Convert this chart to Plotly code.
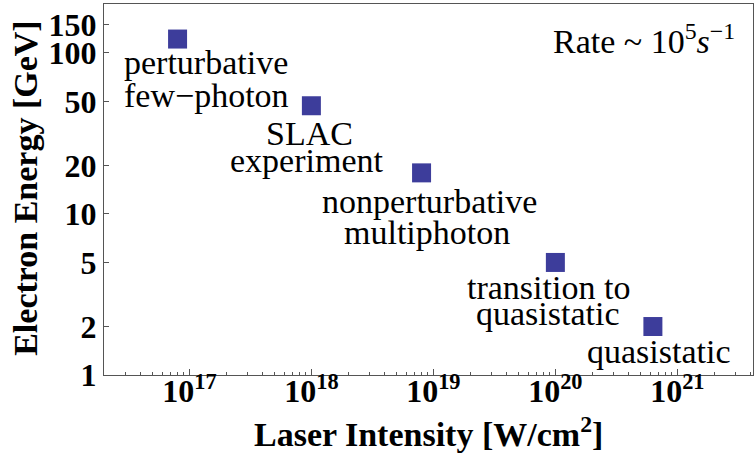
import plotly.graph_objects as go
import numpy as np

# Data
intensity = [8.0e16, 1.0e18, 8.0e18, 1.0e20, 6.3e20]   # W/cm^2
energy = [122, 47, 18, 5, 2]                           # GeV
label_lines = [["perturbative", "few\u2212photon"],
               ["SLAC", "experiment"],
               ["nonperturbative", "multiphoton"],
               ["transition to", "quasistatic"],
               ["quasistatic"]]

x_tickvals = [1e17, 1e18, 1e19, 1e20, 1e21]
x_ticktext = ["10<sup>17</sup>", "10<sup>18</sup>", "10<sup>19</sup>",
              "10<sup>20</sup>", "10<sup>21</sup>"]
y_tickvals = [1, 2, 5, 10, 20, 50, 100, 150]
y_ticktext = ["1", "2", "5", "10", "20", "50", "100", "150"]

# label placement (pixel offsets from each marker, per text line)
line_offsets = [[(28, -23), (29, -56)],
                [(-2, -28), (-5, -55)],
                [(8, -29), (5, -60)],
                [(-7, -25), (-7, -51)],
                [(6, -25)]]

minor_x = [k * 10.0 ** n for n in range(16, 22) for k in range(2, 10)]

SERIF = "Liberation Serif, Times New Roman, serif"
MARK = "#3d3d9b"
FRAME = "#555555"

fig = go.Figure()
fig.add_trace(go.Scatter(
    x=intensity, y=energy, mode="markers",
    marker=dict(symbol="square", size=19, color=MARK, line=dict(width=0)),
    showlegend=False, hoverinfo="skip"))

for xi, yi, lines, offs in zip(intensity, energy, label_lines, line_offsets):
    for t, (dx, dy) in zip(lines, offs):
        fig.add_annotation(x=np.log10(xi), y=np.log10(yi), text=t, showarrow=False,
                           xshift=dx, yshift=dy, xanchor="center", yanchor="middle",
                           font=dict(family=SERIF, size=34, color="black"))

fig.add_annotation(xref="paper", yref="paper", x=0.832, y=0.906,
                   xanchor="center", yanchor="middle",
                   text="Rate ~ 10<sup>5</sup><i>s</i><sup>\u22121</sup>",
                   showarrow=False, font=dict(family=SERIF, size=34, color="black"))

# axis titles as annotations for exact placement
fig.add_annotation(xref="paper", yref="paper", x=0.5, y=-0.153,
                   text="Laser Intensity [W/cm<sup>2</sup>]", showarrow=False,
                   xanchor="center", yanchor="middle",
                   font=dict(family=SERIF, size=34, color="black", weight="bold"))
fig.add_annotation(xref="paper", yref="paper", x=-0.122, y=0.504,
                   text="Electron Energy [GeV]", showarrow=False, textangle=-90,
                   xanchor="center", yanchor="middle",
                   font=dict(family=SERIF, size=34, color="black", weight="bold"))

fig.update_xaxes(type="log", range=[16.30, 21.62],
                 tickvals=x_tickvals, ticktext=x_ticktext,
                 ticks="inside", ticklen=6, tickcolor=FRAME, tickwidth=1,
                 ticklabelstandoff=-12,
                 minor=dict(tickvals=minor_x, ticks="inside", ticklen=3,
                            tickcolor=FRAME, showgrid=False),
                 showline=True, linecolor=FRAME, linewidth=1, mirror=True,
                 showgrid=False, zeroline=False,
                 tickfont=dict(family=SERIF, size=32, color="black", weight="bold"))

fig.update_yaxes(type="log", range=[0, 2.304],
                 tickvals=y_tickvals, ticktext=y_ticktext,
                 ticks="inside", ticklen=5, tickcolor=FRAME, tickwidth=1,
                 showline=True, linecolor=FRAME, linewidth=1, mirror=True,
                 showgrid=False, zeroline=False,
                 tickfont=dict(family=SERIF, size=32, color="black", weight="bold"))

fig.update_layout(width=756, height=454,
                  margin=dict(l=104, r=3, t=4, b=79, autoexpand=False),
                  paper_bgcolor="white", plot_bgcolor="white")

fig.write_html("out.html", config={"displayModeBar": False},
               post_script="document.body.style.margin='0';")
